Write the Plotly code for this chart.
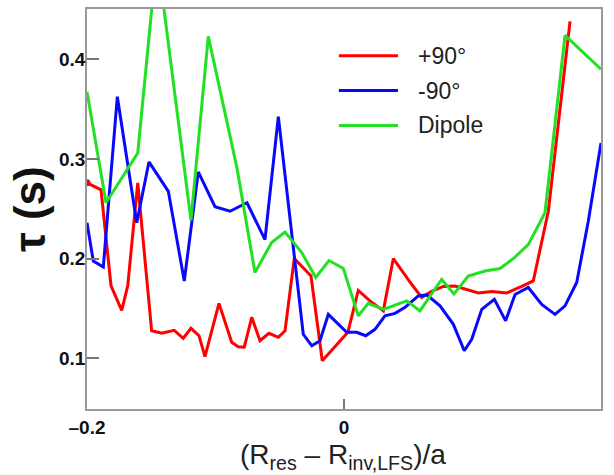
import plotly.graph_objects as go

# ---- data ----
red_x = [-0.2, -0.1891, -0.1813, -0.1730, -0.1683, -0.1605, -0.1497, -0.1419, -0.1321, -0.1251,
         -0.1191, -0.1128, -0.1082, -0.0973, -0.0874, -0.0823, -0.0776, -0.0718, -0.0654, -0.0584,
         -0.0511, -0.0459, -0.0387, -0.0257, -0.0169, -0.0060, 0.0030, 0.0111, 0.0202, 0.0306,
         0.0384, 0.0521, 0.0605, 0.0682, 0.0773, 0.0864, 0.1045, 0.1149, 0.1266, 0.1383,
         0.1473, 0.1590, 0.1759]
red_y = [0.276, 0.269, 0.1725, 0.148, 0.1725, 0.276, 0.1275, 0.125, 0.128, 0.12,
         0.13, 0.1225, 0.1015, 0.155, 0.116, 0.1115, 0.111, 0.141, 0.1175, 0.125,
         0.121, 0.1275, 0.2, 0.1825, 0.0975, 0.113, 0.126, 0.168, 0.1575, 0.1475,
         0.2, 0.175, 0.161, 0.167, 0.172, 0.1725, 0.1655, 0.167, 0.1655, 0.172,
         0.1775, 0.2475, 0.438]

blue_x = [-0.2, -0.1951, -0.1873, -0.1764, -0.1613, -0.1518, -0.1367, -0.1243, -0.1134, -0.1004,
          -0.0887, -0.0755, -0.0615, -0.0511, -0.0317, -0.0251, -0.0187, -0.0122, 0.0021, 0.0099,
          0.0169, 0.0241, 0.0319, 0.0397, 0.0475, 0.0578, 0.0644, 0.0747, 0.0851, 0.0936,
          0.0994, 0.1072, 0.1170, 0.1258, 0.1331, 0.1434, 0.1539, 0.1642, 0.1720, 0.1811,
          0.1901, 0.2]
blue_y = [0.236, 0.1975, 0.1915, 0.3625, 0.236, 0.297, 0.2675, 0.1775, 0.287, 0.252,
          0.2475, 0.256, 0.219, 0.3425, 0.124, 0.1125, 0.1175, 0.144, 0.126, 0.126,
          0.1225, 0.129, 0.1425, 0.145, 0.151, 0.1625, 0.1635, 0.1525, 0.134, 0.1075,
          0.119, 0.149, 0.159, 0.1375, 0.164, 0.171, 0.154, 0.144, 0.1525, 0.176,
          0.2375, 0.316]

green_x = [-0.2, -0.1852, -0.1605, -0.1455, -0.1191, -0.1056, -0.0833, -0.0693, -0.0563, -0.0459,
           -0.0329, -0.0220, -0.0117, -0.0005, 0.0111, 0.0189, 0.0306, 0.0488, 0.0591, 0.0760,
           0.0856, 0.0967, 0.1097, 0.1214, 0.1318, 0.1434, 0.1564, 0.1720, 0.2]
green_y = [0.3675, 0.256, 0.306, 0.505, 0.2385, 0.423, 0.291, 0.186, 0.216, 0.2265,
           0.206, 0.181, 0.198, 0.19, 0.1425, 0.155, 0.149, 0.1575, 0.1475, 0.179,
           0.1645, 0.1825, 0.1875, 0.19, 0.2, 0.214, 0.246, 0.424, 0.39]

series_names = ["+90°", "-90°", "Dipole"]
series_colors = ["#ff0000", "#0808ff", "#22e022"]

x_tickvals = [-0.2, 0, 0.2]
x_ticktext = ["–0.2", "0", "0.2"]
y_tickvals = [0.1, 0.2, 0.3, 0.4]
y_ticktext = ["0.1", "0.2", "0.3", "0.4"]

FONT = "Liberation Sans, Arial, sans-serif"

fig = go.Figure()
for xs, ys, name, col in zip([red_x, blue_x, green_x], [red_y, blue_y, green_y],
                             series_names, series_colors):
    fig.add_trace(go.Scatter(x=xs, y=ys, mode="lines", name=name,
                             line=dict(color=col, width=3), showlegend=False))

# start marker on the red curve
fig.add_trace(go.Scatter(x=red_x[:1], y=red_y[:1], mode="markers", showlegend=False,
                         marker=dict(color=series_colors[0], size=7)))

# manual legend
leg_y = [0.883, 0.796, 0.709]
for name, col, yy in zip(series_names, series_colors, leg_y):
    fig.add_shape(type="line", xref="paper", yref="paper", x0=0.490, x1=0.605, y0=yy, y1=yy,
                  line=dict(color=col, width=3))
    fig.add_annotation(xref="paper", yref="paper", x=0.640, y=yy, text=name, showarrow=False,
                       xanchor="left", yanchor="middle",
                       font=dict(family=FONT, size=23, color="#222"))

# axis titles
fig.add_annotation(xref="paper", yref="paper", x=-0.113, y=0.50, text="τ (s)", textangle=-90,
                   showarrow=False, xanchor="center", yanchor="middle",
                   font=dict(family=FONT, size=44, color="#111", weight="bold"))
fig.add_annotation(xref="paper", yref="paper", x=0.498, y=-0.118,
                   text="(R<sub>res</sub> – R<sub>inv,LFS</sub>)/a", showarrow=False,
                   xanchor="center", yanchor="middle",
                   font=dict(family=FONT, size=28, color="#222"))

axis_common = dict(showgrid=False, zeroline=False, showline=True, mirror=True,
                   linecolor="#999", linewidth=1.5, ticks="inside", tickcolor="#777",
                   tickwidth=1.5,
                   tickfont=dict(family=FONT, size=19, color="#111", weight="bold"))

fig.update_xaxes(range=[-0.2, 0.2], tickvals=x_tickvals, ticktext=x_ticktext, ticklen=10,
                 **axis_common)
fig.update_yaxes(range=[0.049, 0.4505], tickvals=y_tickvals, ticktext=y_ticktext, ticklen=12,
                 ticklabelstandoff=-4, **axis_common)

fig.update_layout(width=614, height=475, margin=dict(l=87, r=13, t=7, b=66),
                  plot_bgcolor="white", paper_bgcolor="white")

fig.write_html("out.html")
